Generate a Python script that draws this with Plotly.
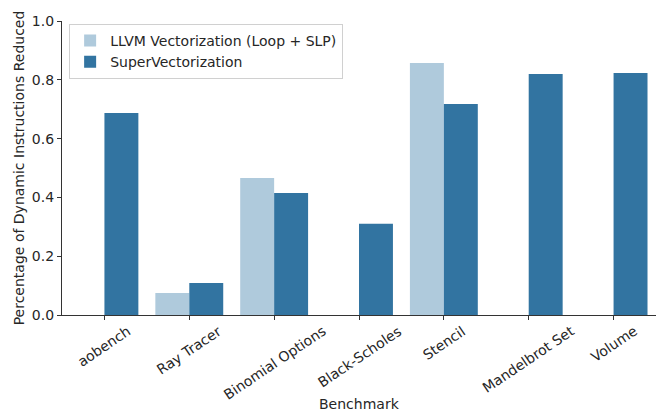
import plotly.graph_objects as go

benchmarks = ["aobench", "Ray Tracer", "Binomial Options", "Black-Scholes",
              "Stencil", "Mandelbrot Set", "Volume"]
llvm_vals = [0.0, 0.075, 0.466, 0.0, 0.857, 0.0, 0.0]
super_vals = [0.687, 0.109, 0.415, 0.31, 0.718, 0.82, 0.823]
y_ticks = [0.0, 0.2, 0.4, 0.6, 0.8, 1.0]

FS = 14
TXT = "#262626"
FONT = dict(family="DejaVu Sans", size=FS, color=TXT)

fig = go.Figure()
fig.add_trace(go.Bar(x=benchmarks, y=llvm_vals, name="LLVM Vectorization (Loop + SLP)",
                     marker=dict(color="#afcadc", line=dict(width=0))))
fig.add_trace(go.Bar(x=benchmarks, y=super_vals, name="SuperVectorization",
                     marker=dict(color="#3274a1", line=dict(width=0))))

# category tick labels, centred under each tick like the reference (rotated)
annotations = [
    dict(x=b, xref="x", y=0, yref="paper", text=b, showarrow=False,
         textangle=-34, xanchor="center", yanchor="top", yshift=-5, font=FONT)
    for b in benchmarks
]
annotations.append(dict(x=0.5, xref="paper", y=0, yref="paper", text="Benchmark",
                        showarrow=False, xanchor="center", yanchor="middle",
                        yshift=-89, font=FONT))

fig.update_layout(
    width=659, height=411,
    margin=dict(l=62, r=3, t=21, b=96, autoexpand=False),
    paper_bgcolor="white", plot_bgcolor="white",
    barmode="group", bargap=0.2, bargroupgap=0,
    font=FONT,
    annotations=annotations,
    legend=dict(x=0.012, y=0.99, xanchor="left", yanchor="top",
                bgcolor="rgba(255,255,255,0.8)", bordercolor="#d0d0d0", borderwidth=1,
                font=FONT, tracegroupgap=0),
    xaxis=dict(showticklabels=False, automargin=False,
               showline=True, linecolor="#333333", linewidth=1.25,
               ticks="outside", ticklen=4, tickcolor="#333333", tickwidth=1.25,
               showgrid=False, range=[-0.5, 6.5]),
    yaxis=dict(title=dict(text="Percentage of Dynamic Instructions Reduced", standoff=3,
                          font=FONT),
               automargin=False, tickfont=FONT,
               range=[0, 1.0], tickvals=y_ticks, ticktext=[f"{v:.1f}" for v in y_ticks],
               showline=True, linecolor="#333333", linewidth=1.25,
               ticks="outside", ticklen=4, tickcolor="#333333", tickwidth=1.25,
               showgrid=False, zeroline=False),
)
fig.write_html("out.html", config={"displayModeBar": False},
               post_script="document.body.style.margin='0';document.body.style.overflow='hidden';")
